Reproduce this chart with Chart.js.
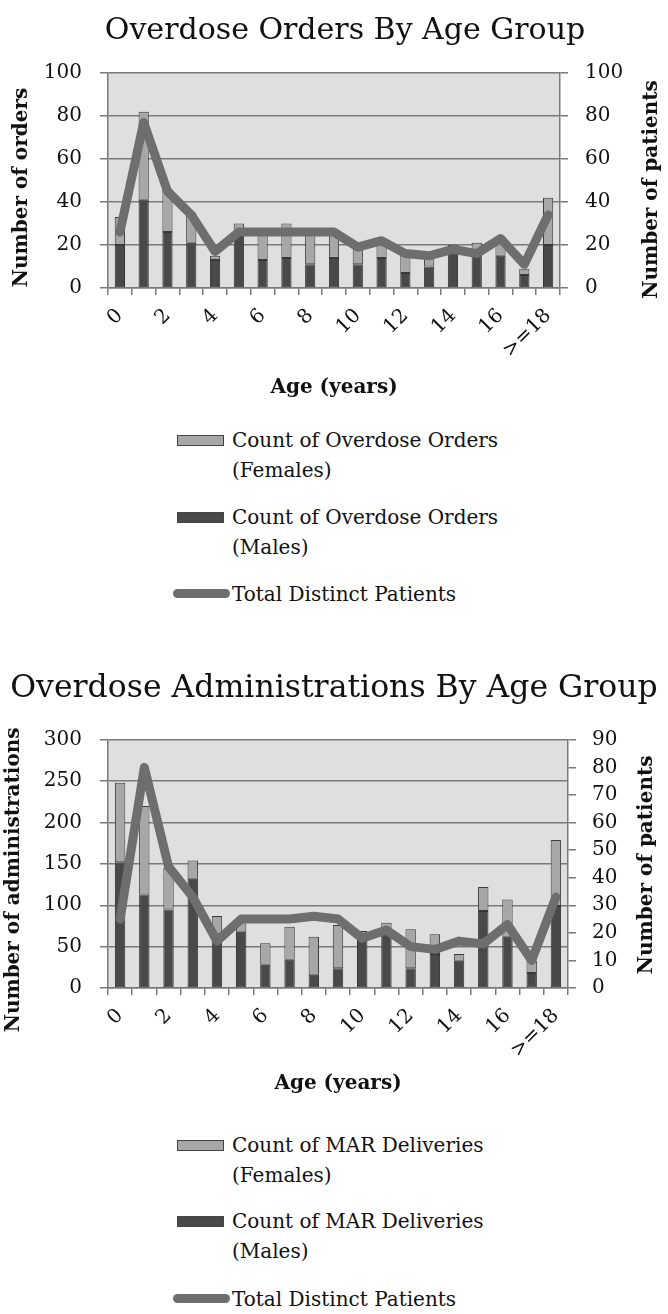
<!DOCTYPE html>
<html><head><meta charset="utf-8">
<script src="https://cdn.jsdelivr.net/npm/chart.js@4.4.1/dist/chart.umd.min.js"></script>
<style>
html,body{margin:0;padding:0;background:#fff;}
body{width:668px;height:1314px;position:relative;overflow:hidden;font-family:"DejaVu Serif",serif;color:#111;}
canvas{position:absolute;left:0;}
.txt{position:absolute;left:232px;white-space:nowrap;font-size:20px;line-height:30px;}
.box{position:absolute;left:177px;width:45px;height:9px;border:1px solid #444;}
.ln{position:absolute;left:173px;width:57px;height:9px;border-radius:5px;background:#6e6e6e;}
</style></head><body>
<canvas id="c1" width="668" height="405" style="top:0px"></canvas>
<canvas id="c2" width="668" height="451" style="top:650px"></canvas>
<div id="legends"></div>
<script>
// ---- data ----
const ages = ['0','1','2','3','4','5','6','7','8','9','10','11','12','13','14','15','16','17','>=18'];
const ordersMale   = [20,41,26,21,13,25,13,14,11,14,11,14,7,10,19,16,15,6,20];
const ordersFemale = [13,41,20,14,2,5,12,16,15,12,7,9,9,5,1,5,9,3,22];
const ordersPatients = [26,77,45,34,17,26,26,26,26,26,19,22,16,15,18,16,23,11,34];
const marMale   = [152,113,95,132,65,68,28,34,16,24,67,71,24,41,33,93,62,18,99];
const marFemale = [96,107,50,22,22,10,26,40,46,52,2,8,47,24,8,29,45,15,80];
const marPatients = [25,80,44,33,17,25,25,25,26,25,18,21,15,14,17,16,23,10,33];
const ordersTicksLeft = {min:0,max:100,step:20};
const ordersTicksRight = {min:0,max:100,step:20};
const marTicksLeft = {min:0,max:300,step:50};
const marTicksRight = {min:0,max:90,step:10};

const FONT = '"DejaVu Serif", serif';
const GRID = '#7a7a7a';

const plotBg = {
  id:'plotBg',
  beforeDraw(chart){
    const {ctx, chartArea:a} = chart;
    ctx.save(); ctx.fillStyle = '#dfdfdf';
    ctx.fillRect(a.left, a.top, a.right-a.left, a.bottom-a.top); ctx.restore();
  }
};
const yTitles = {
  id:'yTitles',
  afterDraw(chart, args, opts){
    const {ctx, chartArea:a} = chart;
    ctx.save();
    ctx.font = 'bold 20px ' + FONT;
    ctx.fillStyle = '#111'; ctx.textAlign = 'center'; ctx.textBaseline = 'middle';
    for (const t of opts.items){
      ctx.save(); ctx.translate(t.x, (a.top+a.bottom)/2 + t.dy); ctx.rotate(-Math.PI/2);
      ctx.fillText(t.text, 0, 0); ctx.restore();
    }
    ctx.restore();
  }
};

function makeChart(id, p){
  const H = document.getElementById(id).height;
  return new Chart(document.getElementById(id), {
    type:'bar',
    data:{
      labels: ages,
      datasets:[
        {type:'line', label:p.lineLabel, data:p.patients, yAxisID:'y1', order:0,
         borderColor:'#6e6e6e', borderWidth:9, pointRadius:0, tension:0,
         borderJoinStyle:'round', borderCapStyle:'round', fill:false},
        {label:p.maleLabel, data:p.male, backgroundColor:'#494949', borderColor:'#353535',
         borderWidth:1, borderSkipped:false, order:1, stack:'s'},
        {label:p.femaleLabel, data:p.female, backgroundColor:'#a7a7a7', borderColor:'#3c3c3c',
         borderWidth:1, borderSkipped:false, order:1, stack:'s'}
      ]
    },
    options:{
      responsive:false, animation:false,
      layout:{padding:{left:p.padLeft, right:0, top:0, bottom:0}},
      datasets:{bar:{barPercentage:0.43, categoryPercentage:1}},
      plugins:{
        legend:{display:false}, tooltip:{enabled:false},
        title:{display:true, text:p.title, color:'#111',
          font:{family:FONT, size:p.titleSize, weight:'normal'}, padding:p.titlePad},
        yTitles:{items:p.yTitles}
      },
      scales:{
        x:{stacked:true, offset:true,
          grid:{offset:true, drawOnChartArea:false, drawTicks:true, tickLength:7, color:GRID, lineWidth:1.5},
          border:{display:true, color:GRID, width:1.5},
          ticks:{autoSkip:false, maxRotation:45, minRotation:45, padding:9, color:'#111',
            font:{family:FONT, size:20},
            callback:function(v,i){ return i % 2 === 0 ? this.getLabelForValue(v) : ''; }},
          title:{display:true, text:'Age (years)', color:'#111', font:{family:FONT, size:20, weight:'bold'}, padding:{top:0,bottom:p.xTitleBottom}},
          afterFit(s){ s.height = H - p.area.bottom; }
        },
        y:{stacked:true, position:'left', min:p.left.min, max:p.left.max,
          grid:{color:GRID, lineWidth:1.5, tickLength:8},
          border:{display:true, color:GRID, width:1.5},
          ticks:{stepSize:p.left.step, padding:18, color:'#111', font:{family:FONT, size:20}},
          afterFit(s){ s.width = p.area.left - p.padLeft; }
        },
        y1:{position:'right', min:p.right.min, max:p.right.max,
          grid:{drawOnChartArea:false, color:GRID, lineWidth:1.5, tickLength:8},
          border:{display:true, color:GRID, width:1.5},
          ticks:{stepSize:p.right.step, padding:p.rightPad, color:'#111', font:{family:FONT, size:20}},
          afterFit(s){ s.width = 668 - p.area.right; }
        }
      }
    },
    plugins:[plotBg, yTitles]
  });
}

makeChart('c1', {
  title:'Overdose Orders By Age Group', titleSize:30,
  male:ordersMale, female:ordersFemale, patients:ordersPatients,
  maleLabel:'Count of Overdose Orders (Males)', femaleLabel:'Count of Overdose Orders (Females)',
  lineLabel:'Total Distinct Patients',
  left:ordersTicksLeft, right:ordersTicksRight,
  area:{left:108, right:560, bottom:288}, padLeft:22,
  titlePad:{top:13, bottom:24}, xTitleBottom:5, rightPad:17,
  yTitles:[{x:22, dy:7, text:'Number of orders'},{x:652, dy:9, text:'Number of patients'}]
});
makeChart('c2', {
  title:'Overdose Administrations By Age Group', titleSize:31.5,
  male:marMale, female:marFemale, patients:marPatients,
  maleLabel:'Count of MAR Deliveries (Males)', femaleLabel:'Count of MAR Deliveries (Females)',
  lineLabel:'Total Distinct Patients',
  left:marTicksLeft, right:marTicksRight,
  area:{left:108, right:568, bottom:338}, padLeft:0,
  titlePad:{top:20, bottom:32}, xTitleBottom:5, rightPad:16,
  yTitles:[{x:14, dy:16, text:'Number of administrations'},{x:647, dy:1, text:'Number of patients'}]
});

// ---- HTML legends ----
const legendDefs = [
  {top:425, items:[
    {kind:'box', color:'#a7a7a7', lines:['Count of Overdose Orders','(Females)']},
    {kind:'box', color:'#494949', lines:['Count of Overdose Orders','(Males)']},
    {kind:'line', lines:['Total Distinct Patients']}], gaps:[0,77,154]},
  {top:1130, items:[
    {kind:'box', color:'#a7a7a7', lines:['Count of MAR Deliveries','(Females)']},
    {kind:'box', color:'#494949', lines:['Count of MAR Deliveries','(Males)']},
    {kind:'line', lines:['Total Distinct Patients']}], gaps:[0,76,154]}
];
const host = document.getElementById('legends');
for (const L of legendDefs){
  L.items.forEach((it, k) => {
    const top = L.top + L.gaps[k];
    const t = document.createElement('div'); t.className = 'txt'; t.style.top = top + 'px';
    t.innerHTML = it.lines.join('<br>'); host.appendChild(t);
    const s = document.createElement('div');
    s.className = it.kind === 'box' ? 'box' : 'ln';
    if (it.kind === 'box') s.style.background = it.color;
    s.style.top = (top + 15 - 5.5) + 'px';
    host.appendChild(s);
  });
}
</script>
</body></html>
